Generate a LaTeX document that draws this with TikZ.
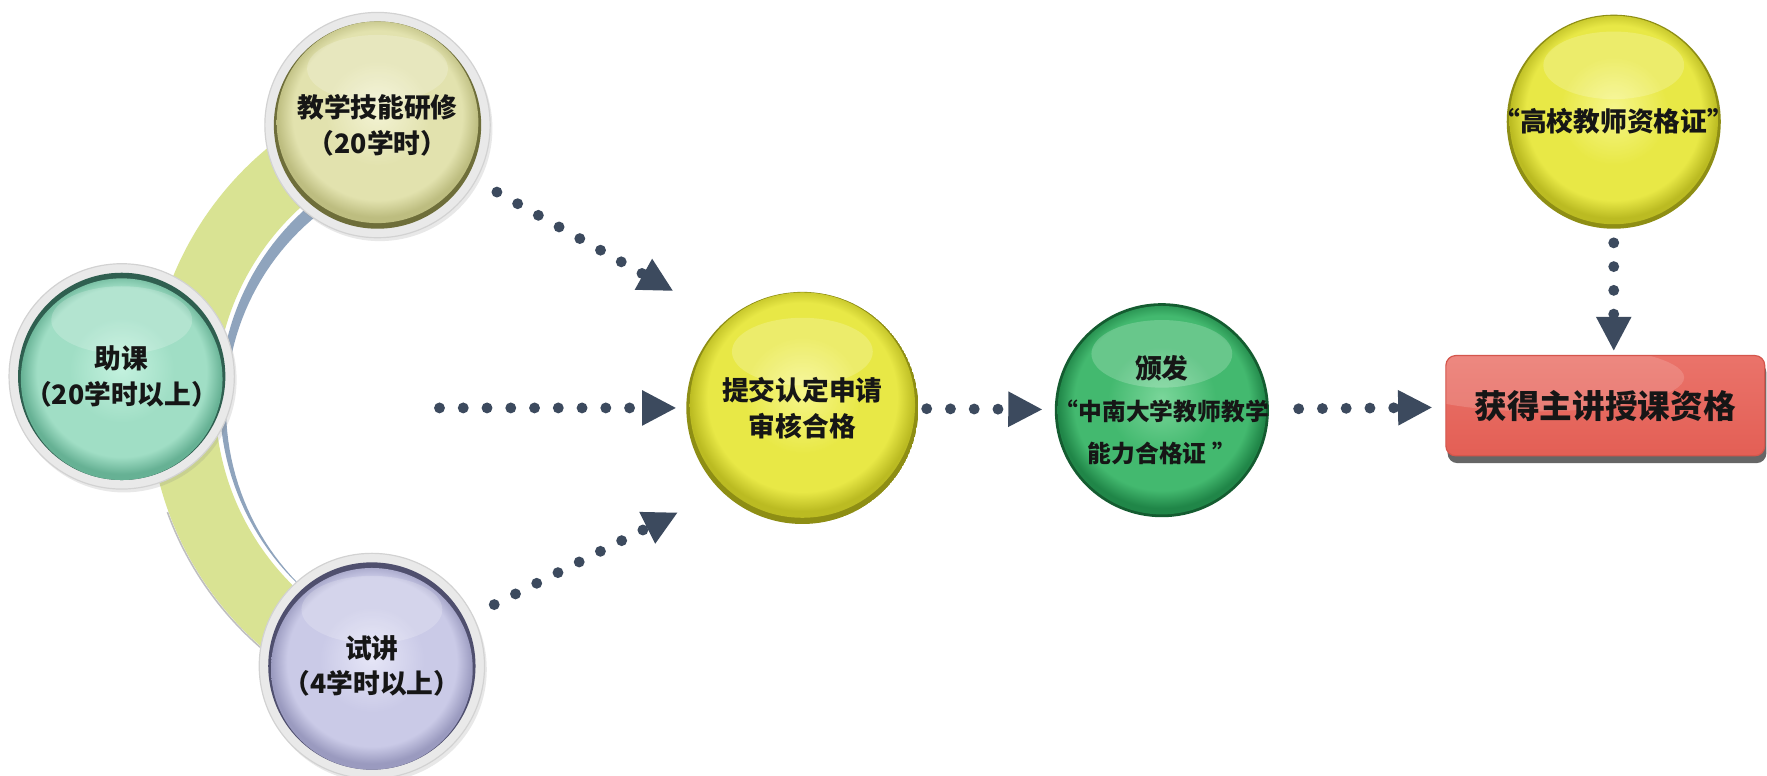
\documentclass[tikz,border=0pt]{standalone}
\usepackage{fontspec}
\setmainfont{Noto Sans CJK SC}
\usetikzlibrary{arrows.meta,shadows,calc}

\definecolor{arrowc}{HTML}{3C4A5E}
\definecolor{txtc}{HTML}{161616}
\definecolor{bandc}{HTML}{D9E393}
\definecolor{bluec}{HTML}{8FA4BD}
\definecolor{ringc}{HTML}{E9E9E9}
\definecolor{ringd}{HTML}{D2D2D2}
% top circle (olive cream)
\definecolor{topA}{HTML}{F3F3D4}\definecolor{topB}{HTML}{E2E2AE}\definecolor{topC}{HTML}{BDBD80}\definecolor{topR}{HTML}{6E6E3A}
% mint
\definecolor{minA}{HTML}{C4F2DF}\definecolor{minB}{HTML}{A0DEC5}\definecolor{minC}{HTML}{66B194}\definecolor{minR}{HTML}{2F5F50}
% lavender
\definecolor{lavA}{HTML}{E6E6F7}\definecolor{lavB}{HTML}{CACAE7}\definecolor{lavC}{HTML}{9A9ABF}\definecolor{lavR}{HTML}{4F4F6E}
% yellow
\definecolor{yelA}{HTML}{F6F68A}\definecolor{yelB}{HTML}{E8E846}\definecolor{yelC}{HTML}{BBBB22}\definecolor{yelR}{HTML}{8E8E14}
% green
\definecolor{grnA}{HTML}{7AD69A}\definecolor{grnB}{HTML}{43B96F}\definecolor{grnC}{HTML}{208648}\definecolor{grnR}{HTML}{145C30}
% red box
\definecolor{redT}{HTML}{EA736A}\definecolor{redB}{HTML}{E35F55}\definecolor{redD}{HTML}{D4564C}

\pgfdeclareradialshading[bubA,bubB,bubC]{bubble}{\pgfpoint{0bp}{3bp}}{color(0bp)=(bubA); color(13bp)=(bubB); color(21bp)=(bubB); color(25bp)=(bubC); color(50bp)=(bubC)}

\newcommand\fntA{\fontsize{13.5pt}{18pt}\selectfont\bfseries}
\newcommand\fntB{\fontsize{12pt}{21pt}\selectfont\bfseries}
\newcommand\fntC{\fontsize{16.5pt}{20pt}\selectfont\bfseries}

\tikzset{
  bub/.style n args={8}{circle, inner sep=0pt, align=center, text=txtc, minimum size=#1,
    path picture={
      \colorlet{bubA}{#2}\colorlet{bubB}{#3}\colorlet{bubC}{#4}
      \fill[#5] (path picture bounding box.center) circle (#6);
      \shade[shading=bubble] ([yshift=#8]path picture bounding box.center) circle (#7);
      \fill[white, opacity=0.2] ([yshift=1.0cm]path picture bounding box.center) ellipse (1.25cm and 0.6cm);
    }},
  ringed/.style={fill=ringc, draw=ringd, line width=0.6pt,
    drop shadow={opacity=0.18, shadow xshift=0.04cm, shadow yshift=-0.06cm}},
  dotarr/.style={draw=arrowc, line width=5.5pt, line cap=round, dash pattern=on 0pt off 12pt,
    -{Triangle[length=17pt, width=18pt, line width=0pt]}},
  goalbox/.style={rectangle, rounded corners=5pt, minimum width=5.66cm, minimum height=1.78cm,
    top color=redT, bottom color=redB, draw=redD, line width=0.6pt, text=txtc, font=\fntC,
    drop shadow={shadow xshift=0.03cm, shadow yshift=-0.13cm, fill=black!70, opacity=0.85}},
}

\begin{document}
\begin{tikzpicture}[x=0.02cm, y=-0.02cm]
\path[use as bounding box, fill=white] (0,0) rectangle (1568,688);

% arc band behind the left circles
\coordinate (C) at (422,355);
\fill[bandc] ([shift={(100:5.8cm)}]C) arc[start angle=100, end angle=262, radius=5.8cm]
  -- ([shift={(262:4.62cm)}]C) arc[start angle=262, end angle=100, radius=4.62cm] -- cycle;
\draw[black!25, line width=0.8pt] ([shift={(200:5.82cm)}]C) arc[start angle=200, end angle=258, radius=5.82cm];
\fill[bluec] plot[domain=112:232, samples=60, variable=\t] ({422+227*cos(\t)}, {355-227*sin(\t)})
  -- plot[domain=232:112, samples=60, variable=\t] ({422+(227-13*(232-\t)/120)*cos(\t)}, {355-(227-13*(232-\t)/120)*sin(\t)}) -- cycle;

% left circles
\node[bub={4cm}{topA}{topB}{topC}{topR}{1.84cm}{1.79cm}{0.05cm}, ringed, font=\fntA] (skill) at (335,111) {教学技能研修\\（20学时）};
\node[bub={4cm}{minA}{minB}{minC}{minR}{1.84cm}{1.79cm}{-0.05cm}, ringed, font=\fntA] (assist) at (108,334) {助课\\（20学时以上）};
\node[bub={4cm}{lavA}{lavB}{lavC}{lavR}{1.84cm}{1.79cm}{-0.05cm}, ringed, font=\fntA] (trial) at (330,591) {试讲\\（4学时以上）};

% centre circles
\node[bub={4.12cm}{yelA}{yelB}{yelC}{yelR}{2.06cm}{2.0cm}{0.05cm}, font=\fntA] (submit) at (712,362) {提交认定申请\\审核合格};
\node[bub={3.8cm}{grnA}{grnB}{grnC}{grnR}{1.9cm}{1.85cm}{0cm}, font=\fntB] (issue) at (1031,364) {{\fontsize{13.5pt}{21pt}\selectfont 颁发}\\“中南大学教师教学\\能力合格证 ”};
\node[bub={3.8cm}{yelA}{yelB}{yelC}{yelR}{1.9cm}{1.85cm}{0.03cm}, font=\fntA] (cert) at (1432,108) {“高校教师资格证”};

% goal box
\node[goalbox, path picture={\fill[white, opacity=0.15] ([xshift=-1.2cm, yshift=0.5cm]path picture bounding box.center) ellipse (2.6cm and 0.6cm);}] (goal) at (1424.5,360) {获得主讲授课资格};

% dotted connectors
\coordinate (a1e) at (597,258);
\coordinate (h0) at (390,362);
\coordinate (a3e) at (601,455);
\draw[dotarr, shorten <=0.42cm] (skill) -- (a1e);
\draw[dotarr, shorten >=0.18cm] (h0) -- (submit);
\draw[dotarr, shorten <=0.42cm] (trial) -- (a3e);
\draw[dotarr, shorten <=0.14cm] (submit) -- (issue);
\draw[dotarr, shorten <=0.3cm, shorten >=0.24cm] (issue) -- (goal);
\draw[dotarr, shorten <=0.0cm, shorten >=0.08cm] (cert) -- (cert |- goal.north);
\end{tikzpicture}
\end{document}
